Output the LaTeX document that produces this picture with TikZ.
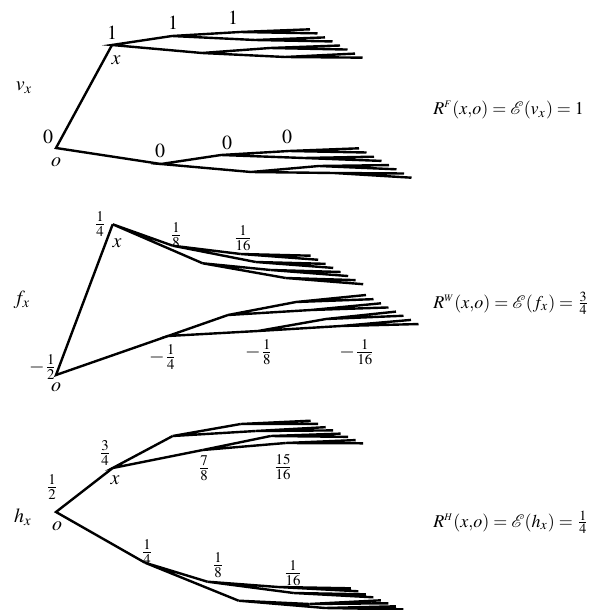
\documentclass[tikz,border=0pt]{standalone}
\usepackage{mathptmx}
\usepackage{tikz}
\usetikzlibrary{calc}

% one half of a tree: name, root x, root y, six inner y's, first leaf y, leaf step, x stretch
\newcommand{\comb}[7]{%
  \coordinate (#1) at (#2,#3);
  \foreach \y [count=\k] in {#4}{
    \pgfmathsetmacro{\dx}{#7*{60,90,128,143,158,173}[\k-1]}
    \coordinate (#1-\k) at (#2+\dx,\y);
  }
  \foreach \i in {0,...,7}
    \coordinate (#1-L\i) at (#2+#7*198+7.5*\i,#5+#6*\i);
  \draw[edge] (#1-1) -- (#1) -- (#1-2);
  \draw[edge] (#1-3) -- (#1-1) -- (#1-4);
  \draw[edge] (#1-5) -- (#1-2) -- (#1-6);
  \foreach \j [evaluate=\j as \a using int(2*\j-6), evaluate=\j as \b using int(2*\j-5)] in {3,...,6}
    \draw[edge] (#1-L\a) -- (#1-\j) -- (#1-L\b);
}
\newcommand{\rtag}[1]{^{\scriptscriptstyle #1}}

\begin{document}
\begin{tikzpicture}[
  x=0.5pt,y=-0.5pt,
  edge/.style={line width=1.2pt,line join=miter},
  lbl/.style={inner sep=0pt},
  eqn/.style={inner sep=0pt,anchor=west,font=\small}
]
\useasboundingbox (0,0) rectangle (595,610);

% v_x
\coordinate (vo) at (56,148);
\comb{vx}{112}{45}{36,53,32,40,48,57}{29.3}{4.05}{1}
\comb{vy}{161}{164}{155,172,151,158,166,173}{148.3}{4.2}{1}
\draw[edge] (vx) -- (vo) -- (vy);
\node[lbl] (vname) at (24,88) {$v_x$};
\node[lbl] (vxval) at (112,33) {$1$};
\node[lbl] (vxlab) at (116,60) {$x$};
\node[lbl] (va1) at (173,23) {$1$};
\node[lbl] (va2) at (233,18) {$1$};
\node[lbl] (voval) at (48,137) {$0$};
\node[lbl] (volab) at (56,162) {$o$};
\node[lbl] (vb0) at (160,151) {$0$};
\node[lbl] (vb1) at (227,143) {$0$};
\node[lbl] (vb2) at (287,137) {$0$};
\node[eqn] (veq) at (433,110) {$R\rtag{F}(x{,}o) = \mathcal{E}(v_x) = 1$};

% f_x
\coordinate (fo) at (56,375);
\comb{fx}{112.7}{224.3}{245.7,263.3,254,262,270,278}{255.7}{4.07}{1}
\comb{fy}{168}{336}{315,331,302,310,319,326}{295}{4.15}{1}
\draw[edge] (fx) -- (fo) -- (fy);
\node[lbl] (fname) at (22,300) {$f_x$};
\node[lbl] (fxval) at (100,224) {$\frac{1}{4}$};
\node[lbl] (fxlab) at (117,243) {$x$};
\node[lbl] (fa1) at (176,235) {$\frac{1}{8}$};
\node[lbl] (fa2) at (243,238) {$\frac{1}{16}$};
\node[lbl] (foval) at (43,367) {$-\frac{1}{2}$};
\node[lbl] (folab) at (56,387) {$o$};
\node[lbl] (fb0) at (163,357) {$-\frac{1}{4}$};
\node[lbl] (fb1) at (259,352) {$-\frac{1}{8}$};
\node[lbl] (fb2) at (357,352) {$-\frac{1}{16}$};
\node[eqn] (feq) at (433,303) {$R\rtag{W}(x{,}o) = \mathcal{E}(f_x) = \frac{3}{4}$};

% h_x
\coordinate (ho) at (56,512);
\comb{hx}{112.7}{468}{436,450,424,431,436,443}{420.7}{3.23}{1}
\comb{hy}{145}{562.7}{581.7,600.7,587,593,604,608}{588.3}{3}{1.04}
\draw[edge] (hx) -- (ho) -- (hy);
\node[lbl] (hname) at (23,517) {$h_x$};
\node[lbl] (hoval) at (52,487) {$\frac{1}{2}$};
\node[lbl] (holab) at (57,526) {$o$};
\node[lbl] (hxval) at (105,453) {$\frac{3}{4}$};
\node[lbl] (hxlab) at (115,480) {$x$};
\node[lbl] (ha1) at (204,468) {$\frac{7}{8}$};
\node[lbl] (ha2) at (283,467) {$\frac{15}{16}$};
\node[lbl] (hb0) at (147,552) {$\frac{1}{4}$};
\node[lbl] (hb1) at (218,565) {$\frac{1}{8}$};
\node[lbl] (hb2) at (293,573) {$\frac{1}{16}$};
\node[eqn] (heq) at (433,522) {$R\rtag{H}(x{,}o) = \mathcal{E}(h_x) = \frac{1}{4}$};
\end{tikzpicture}
\end{document}
